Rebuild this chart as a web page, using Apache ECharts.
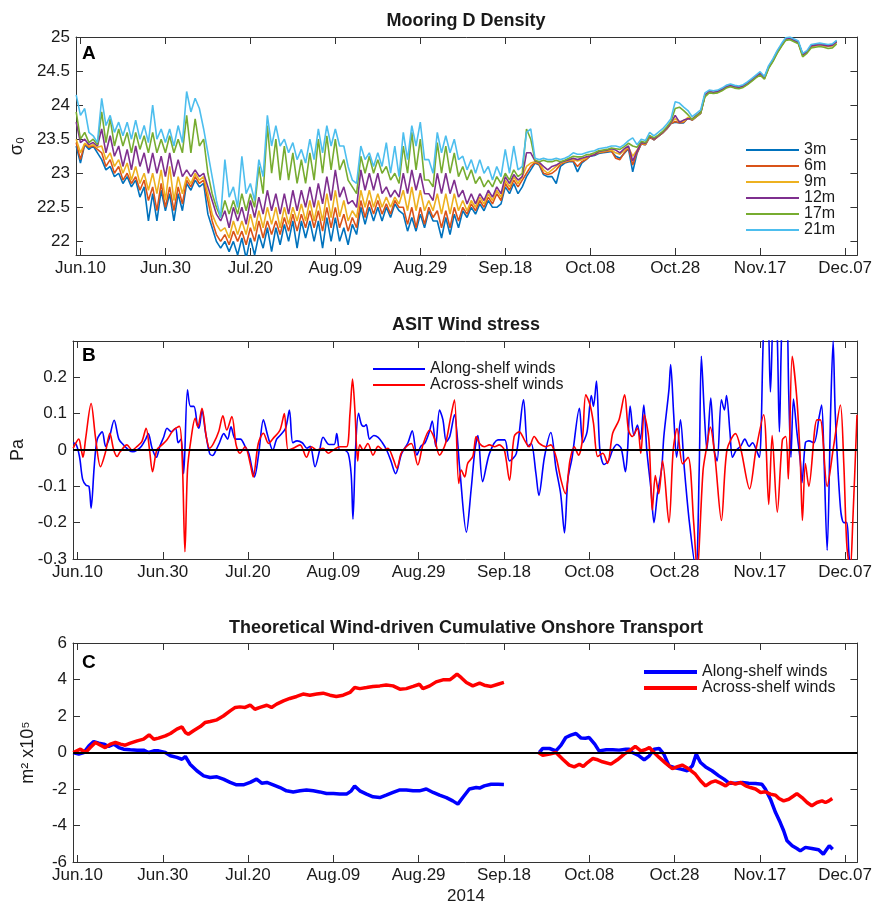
<!DOCTYPE html>
<html><head><meta charset="utf-8">
<script src="https://cdn.jsdelivr.net/npm/echarts/dist/echarts.min.js"></script>
<style>html,body{margin:0;padding:0;background:#fff}#c{width:875px;height:904px}</style>
</head><body><div id="c"></div>
<script>
// ---------- shared axis info ----------
const tickDays = [0,20,40,60,80,100,120,140,160,180];          // days since Jun.10 2014
const tickLabels = ['Jun.10','Jun.30','Jul.20','Aug.09','Aug.29','Sep.18','Oct.08','Oct.28','Nov.17','Dec.07'];
const densityTicks = [22,22.5,23,23.5,24,24.5,25];
const stressTicks = [-0.3,-0.2,-0.1,0,0.1,0.2];
const transportTicks = [-6,-4,-2,0,2,4,6];

// ---------- Panel A: Mooring D density (daily samples starting at day -1) ----------
const depthNames = ['3m','6m','9m','12m','17m','21m'];
const densityStartDay = -1;
const sigma3m = [23.4,23.15,23.42,23.35,23.4,23.3,23.2,23.05,23.1,22.95,23.0,
22.85,22.95,22.8,22.9,22.65,22.8,22.3,22.7,22.3,22.75,
22.45,22.7,22.3,22.7,22.45,22.85,22.75,22.9,22.8,22.85,
22.4,22.2,22.0,21.9,22.0,21.85,22.0,21.8,22.05,21.75,
22.05,21.8,22.1,21.9,22.2,21.85,22.2,21.95,22.25,22.0,
22.3,21.9,22.3,22.05,22.3,22.0,22.3,21.9,22.35,22.0,
22.35,22.0,22.2,21.95,22.25,22.1,22.5,22.25,22.5,22.3,
22.5,22.3,22.5,22.35,22.55,22.45,22.4,22.15,22.35,22.15,
22.4,22.2,22.45,22.3,22.3,22.05,22.35,22.1,22.4,22.2,
22.45,22.35,22.5,22.4,22.55,22.45,22.6,22.5,22.5,22.55,
22.8,22.7,22.85,22.7,22.8,22.95,23.05,23.15,23.12,22.98,
22.95,22.95,22.85,23.1,23.15,23.17,23.17,23.02,23.15,23.2,
23.25,23.26,23.29,23.3,23.31,23.32,23.25,23.22,23.29,23.36,
23.02,23.29,23.43,23.42,23.53,23.49,23.54,23.59,23.65,23.73,
23.75,23.74,23.74,23.81,23.78,23.83,23.88,24.14,24.19,24.18,
24.2,24.23,24.27,24.29,24.27,24.26,24.28,24.32,24.37,24.42,
24.47,24.41,24.56,24.66,24.78,24.88,24.97,24.98,24.95,24.92,
24.75,24.78,24.87,24.89,24.9,24.89,24.88,24.89,24.94];
const sigma6m = [23.45,23.2,23.43,23.38,23.4,23.35,23.3,23.1,23.2,23.0,23.1,
22.9,23.0,22.85,22.95,22.75,22.9,22.6,22.8,22.45,22.85,
22.5,22.8,22.45,22.8,22.55,22.9,22.8,22.95,22.85,22.9,
22.6,22.3,22.1,22.0,22.1,21.95,22.15,22.0,22.15,21.95,
22.2,22.0,22.3,22.05,22.3,22.1,22.3,22.1,22.35,22.15,
22.4,22.15,22.4,22.2,22.45,22.2,22.45,22.15,22.5,22.2,
22.5,22.2,22.4,22.15,22.35,22.2,22.6,22.35,22.6,22.4,
22.6,22.4,22.55,22.4,22.6,22.5,22.5,22.25,22.5,22.2,
22.5,22.25,22.5,22.35,22.45,22.2,22.45,22.2,22.5,22.3,
22.5,22.4,22.55,22.45,22.6,22.5,22.65,22.55,22.7,22.6,
22.85,22.75,22.9,22.8,22.9,23.0,23.1,23.16,23.13,23.0,
22.98,23.0,23.05,23.13,23.16,23.18,23.18,23.1,23.17,23.2,
23.26,23.27,23.3,23.31,23.32,23.33,23.22,23.2,23.3,23.37,
23.12,23.3,23.43,23.42,23.53,23.49,23.54,23.59,23.65,23.73,
23.76,23.74,23.75,23.81,23.78,23.83,23.88,24.14,24.19,24.18,
24.19,24.22,24.26,24.28,24.26,24.25,24.27,24.31,24.36,24.41,
24.46,24.39,24.55,24.65,24.77,24.87,24.96,24.97,24.94,24.91,
24.74,24.77,24.86,24.88,24.89,24.88,24.87,24.88,24.93];
const sigma9m = [23.5,23.3,23.44,23.4,23.42,23.38,23.4,23.2,23.3,23.1,23.2,
23.0,23.15,22.9,23.1,22.85,23.0,22.75,23.0,22.7,23.05,
22.6,23.1,22.6,22.95,22.7,22.95,22.85,23.0,22.9,22.95,
22.7,22.4,22.25,22.15,22.2,22.05,22.3,22.1,22.3,22.1,
22.4,22.15,22.45,22.2,22.5,22.25,22.5,22.2,22.5,22.25,
22.5,22.3,22.55,22.3,22.6,22.3,22.6,22.3,22.7,22.35,
22.75,22.36,22.6,22.3,22.45,22.35,22.75,22.5,22.75,22.5,
22.7,22.5,22.65,22.5,22.65,22.55,22.75,22.45,22.8,22.45,
22.75,22.45,22.6,22.45,22.7,22.4,22.7,22.4,22.7,22.45,
22.6,22.45,22.6,22.5,22.65,22.55,22.7,22.6,22.75,22.65,
22.9,22.8,22.95,22.85,22.95,23.1,23.15,23.17,23.15,23.05,
23.0,23.05,23.1,23.15,23.17,23.19,23.2,23.18,23.2,23.22,
23.27,23.28,23.31,23.32,23.33,23.34,23.3,23.28,23.34,23.38,
23.25,23.34,23.44,23.43,23.54,23.5,23.55,23.6,23.66,23.74,
23.8,23.76,23.76,23.82,23.79,23.84,23.89,24.14,24.19,24.18,
24.19,24.22,24.26,24.28,24.26,24.25,24.27,24.31,24.36,24.41,
24.46,24.39,24.55,24.65,24.77,24.87,24.96,24.97,24.94,24.91,
24.73,24.77,24.86,24.87,24.88,24.87,24.86,24.87,24.92];
const sigma12m = [23.75,23.45,23.5,23.42,23.45,23.4,23.65,23.3,23.55,23.25,23.4,
23.1,23.35,23.05,23.4,23.1,23.3,23.0,23.3,23.0,23.25,
22.95,23.3,22.95,23.2,22.95,23.05,22.95,23.05,22.95,23.0,
22.8,22.6,22.4,22.3,22.45,22.2,22.5,22.3,22.5,22.25,
22.6,22.35,22.65,22.4,22.75,22.45,22.7,22.4,22.7,22.4,
22.75,22.45,22.75,22.5,22.8,22.5,22.85,22.55,22.95,22.6,
23.05,22.65,22.8,22.55,22.6,22.5,23.05,22.75,23.0,22.75,
23.0,22.7,22.8,22.65,22.75,22.65,23.0,22.7,23.05,22.75,
23.0,22.7,22.7,22.6,23.0,22.7,23.0,22.7,22.9,22.65,
22.75,22.55,22.7,22.55,22.7,22.6,22.75,22.65,22.8,22.7,
22.95,22.85,22.98,22.9,22.95,23.3,23.3,23.18,23.16,23.1,
23.05,23.1,23.12,23.16,23.18,23.2,23.22,23.2,23.22,23.24,
23.25,23.27,23.32,23.33,23.34,23.36,23.34,23.3,23.36,23.4,
23.18,23.32,23.45,23.44,23.55,23.5,23.55,23.6,23.66,23.74,
23.85,23.75,23.78,23.8,23.8,23.85,23.9,24.15,24.2,24.19,
24.2,24.23,24.27,24.29,24.27,24.26,24.28,24.32,24.37,24.42,
24.47,24.4,24.56,24.66,24.78,24.88,24.97,24.98,24.95,24.92,
24.74,24.78,24.87,24.88,24.89,24.88,24.87,24.88,24.93];
const sigma17m = [23.9,23.5,23.6,23.45,23.5,23.42,23.9,23.45,23.8,23.4,23.65,
23.4,23.6,23.3,23.6,23.35,23.55,23.3,23.6,23.3,23.5,
23.3,23.55,23.3,23.5,23.3,23.85,23.3,23.8,23.4,23.5,
23.0,22.7,22.5,22.35,22.6,22.4,22.6,22.4,22.7,22.45,
22.7,22.5,23.1,22.7,23.7,23.0,23.5,22.9,23.4,22.9,
23.3,22.85,23.2,22.85,23.3,22.9,23.5,23.0,23.55,23.05,
23.5,23.05,23.2,22.9,22.8,22.7,23.25,23.0,23.25,23.0,
23.2,23.0,23.1,22.9,23.0,22.85,23.4,23.0,23.6,23.05,
23.5,22.9,22.9,22.8,23.45,23.0,23.4,23.0,23.3,22.95,
23.1,22.9,23.05,22.85,22.95,22.8,22.9,22.8,22.95,22.85,
23.0,22.9,23.05,22.95,23.0,23.65,23.5,23.19,23.17,23.19,
23.17,23.17,23.19,23.17,23.19,23.22,23.25,23.24,23.24,23.27,
23.28,23.3,23.33,23.34,23.35,23.37,23.36,23.35,23.39,23.44,
23.4,23.38,23.47,23.45,23.55,23.52,23.56,23.61,23.68,23.76,
23.95,23.97,23.92,23.86,23.79,23.84,23.89,24.12,24.18,24.17,
24.18,24.21,24.25,24.27,24.25,24.24,24.26,24.3,24.35,24.4,
24.44,24.38,24.54,24.64,24.76,24.86,24.95,24.96,24.93,24.9,
24.71,24.76,24.84,24.85,24.86,24.85,24.83,24.84,24.9];
const sigma21m = [24.15,23.85,23.95,23.6,23.55,23.45,24.1,23.7,23.85,23.6,23.75,
23.55,23.75,23.5,23.78,23.5,23.7,23.45,24.0,23.5,23.65,
23.45,23.65,23.4,23.7,23.45,24.2,23.9,24.1,23.95,23.65,
23.3,22.95,22.6,22.35,23.2,22.65,22.8,22.5,23.25,22.7,
22.85,22.6,23.2,22.95,23.85,23.4,23.7,23.4,23.5,23.3,
23.45,23.2,23.35,23.15,23.5,23.2,23.65,23.3,23.7,23.4,
23.65,23.4,23.4,23.1,22.9,22.85,23.4,23.2,23.3,23.1,
23.3,23.1,23.45,23.0,23.4,22.95,23.6,23.2,23.7,23.4,
23.75,23.2,23.2,23.0,23.6,23.3,23.55,23.3,23.5,23.2,
23.25,23.05,23.2,23.0,23.2,23.0,23.1,22.9,23.1,22.95,
23.35,23.0,23.4,23.05,23.1,23.6,23.65,23.22,23.2,23.22,
23.2,23.2,23.22,23.2,23.22,23.25,23.3,23.28,23.28,23.3,
23.32,23.33,23.36,23.37,23.38,23.4,23.4,23.38,23.42,23.48,
23.52,23.42,23.5,23.48,23.6,23.55,23.6,23.65,23.72,23.8,
24.05,24.03,23.97,23.92,23.83,23.88,23.93,24.18,24.22,24.21,
24.22,24.25,24.29,24.31,24.29,24.28,24.3,24.34,24.39,24.44,
24.49,24.42,24.58,24.68,24.8,24.9,24.99,25.0,24.97,24.94,
24.76,24.8,24.89,24.9,24.91,24.9,24.89,24.9,24.95];
const densitySeriesValues = [sigma3m, sigma6m, sigma9m, sigma12m, sigma17m, sigma21m];
const depthColors = ['#0072BD','#D95319','#EDB120','#7E2F8E','#77AC30','#4DBEEE'];

// ---------- Panel B: ASIT wind stress [day, Pa] ----------
const alongStress = [[-1,0.02],[-0.3,0.015],[0.5,-0.02],[1.2,-0.08],[2,-0.097],[2.7,-0.1],[3.2,-0.16],[3.9,-0.05],[4.6,0.028],[5.8,0.05],[6.6,0.01],[7.4,0.03],[8.6,0.082],[9.7,0.03],[10.7,0.015],[12,0],[13,-0.005],[14,0],[15,0.01],[16,0.03],[16.6,0.045],[17.5,0.005],[18.5,-0.02],[19.3,0.01],[20.2,0.035],[21,0.06],[22,0.05],[23,0.06],[23.6,0.02],[24.3,0.03],[24.9,-0.065],[25.8,0.166],[26.5,0.12],[27.3,0.12],[28.1,0.07],[28.5,0.06],[29.2,0.11],[30,0.05],[31,-0.01],[31.7,-0.015],[32.5,0],[33.3,0.02],[34.3,0.045],[35.2,0.03],[36,0.064],[37,0.03],[38.2,0.03],[39.3,0.01],[40.2,-0.01],[41,-0.055],[41.5,-0.074],[42.5,-0.01],[43.6,0.083],[44.6,0.04],[45.8,0],[46.7,0.03],[47.5,0.04],[48.8,0.06],[49.7,0.11],[50.5,0.02],[51.5,0.025],[52.7,0.02],[53.8,0.005],[54.6,0.01],[55.7,-0.046],[56.8,0],[57.6,0.035],[59,0.015],[60.2,0.015],[60.8,0.045],[61.5,0],[62.5,0],[63.5,-0.01],[64.2,-0.07],[64.6,-0.19],[65.2,0],[65.9,0.101],[66.6,0.07],[67.2,0.065],[67.7,0.07],[68.5,0.03],[69.5,0.04],[70.5,0.035],[71.5,0.02],[72.5,0],[73.5,-0.03],[74.6,-0.065],[76,-0.01],[77.5,0.02],[78.5,0.053],[79.6,-0.014],[80.5,0.01],[81.5,0.02],[82.5,0.05],[83.2,0.08],[84,0.01],[84.9,0.11],[85.7,0.083],[86.5,0.023],[87.3,0.037],[88.4,0.097],[89.6,-0.046],[91.2,-0.226],[92.3,-0.11],[93.2,0],[93.9,0.04],[95,-0.087],[96.6,-0.01],[98.6,0.028],[100.2,0.028],[101.3,-0.03],[102.9,-0.01],[104.6,0.138],[105.6,0.01],[106.4,0.018],[107.5,-0.064],[108.2,-0.125],[109.5,-0.02],[111,0.048],[112.2,-0.05],[113.3,-0.12],[114.2,-0.228],[115,-0.08],[116,-0.02],[117.7,0.115],[118.5,0.02],[119.5,0.05],[120.5,0.15],[121,0.12],[121.7,0.19],[122.5,0],[123.5,-0.04],[124.5,-0.03],[125.5,0],[126.5,0.015],[127.5,0.005],[128.5,-0.06],[129,0],[129.6,0.121],[130.5,0.04],[131.3,0.069],[132,0.03],[132.8,0.124],[133.5,0],[134.5,-0.11],[135.2,-0.2],[136,-0.12],[137,-0.05],[137.5,0.037],[138.7,0.166],[139.1,0.235],[139.8,0.1],[140.5,-0.02],[141.4,0.083],[142.3,-0.05],[143.5,-0.2],[145,-0.33],[145.8,-0.05],[146.3,0.258],[147,0.1],[147.6,0],[148.5,0.143],[149.3,0],[150,-0.03],[151,0.138],[151.7,0.11],[152.2,0.15],[153,0.05],[153.6,-0.02],[154.5,0],[155.5,0.01],[156.5,0.03],[157.5,0.01],[158.3,0.02],[159.2,0],[159.9,-0.02],[160.3,0.05],[161,0.36],[161.8,0.38],[162.5,0.16],[163.3,0.4],[164,0.35],[164.6,0.05],[165.3,0.38],[166.2,0.4],[166.8,0.15],[167.3,-0.02],[167.9,0.14],[168.7,0.05],[169.5,-0.03],[169.9,-0.09],[170.7,0.02],[171.5,0.025],[172.7,0.02],[173.9,0.09],[174.5,0.124],[175,0],[175.8,-0.276],[176.6,0.1],[177.2,0.3],[177.7,0.1],[178.9,-0.157],[179.7,-0.2],[180.4,-0.2],[181.2,-0.32],[182.5,-0.33]];
const acrossStress = [[-1,0.005],[0.3,0.03],[0.9,0],[1.3,-0.02],[1.9,0.03],[3.2,0.128],[4.2,0.037],[5.4,-0.046],[6.5,-0.009],[7.6,0.046],[8.5,0],[9.3,-0.018],[10,-0.005],[11.6,0.014],[12.8,0],[14,0.01],[15.1,0.023],[16.1,0.06],[16.9,0],[17.6,-0.06],[18.6,0],[19.8,0.014],[21,0.028],[22.5,0.055],[23.9,0.065],[24.6,-0.037],[25.2,-0.28],[25.8,-0.055],[26.6,0.028],[27.6,0.087],[28.2,0.064],[29.2,0.115],[30.2,0.037],[31,0.005],[31.9,0.018],[33.1,0.05],[34.1,0.094],[35,0.055],[36.2,0.092],[37.2,0.014],[38.1,-0.009],[39.3,0.009],[40.5,-0.037],[41.2,-0.074],[42.4,0.018],[43.6,0.046],[44.8,0.018],[45.9,0.032],[47.5,0.055],[48.5,0.1],[49.4,0],[50.6,0.005],[52.2,0.014],[53.7,-0.02],[54.9,0.009],[56.1,0],[57.6,0.005],[58.8,-0.009],[60,0],[61.5,0.009],[63.1,0.009],[63.9,0.1],[64.5,0.195],[65.1,0.1],[65.7,-0.03],[66.2,0.014],[67,0],[68.1,0.018],[69.3,-0.014],[70.5,0.01],[71.7,0],[72.8,0.005],[74,-0.023],[74.9,-0.05],[75.9,-0.009],[77.1,0.009],[78.3,0.018],[79.8,-0.041],[81,0.014],[82.6,0.055],[83.7,0.032],[84.9,-0.014],[86.3,0.018],[87.4,0.083],[88.4,0.138],[89.4,-0.092],[90,-0.055],[90.8,-0.074],[91.5,-0.037],[92.7,-0.018],[93.5,0.037],[94.3,0.018],[95.4,0.009],[96.6,0.014],[97.8,0.009],[98.9,0.014],[100.1,0],[101.3,-0.083],[102.4,0.037],[103.6,0.05],[104.8,0.028],[105.9,0.009],[107.1,0.037],[108.3,0.018],[109.9,0.009],[111,0.014],[112.2,-0.018],[113.4,-0.083],[114.4,-0.12],[115.5,-0.028],[116.5,0.009],[117.5,-0.014],[118.4,0.028],[119.2,0.152],[120.2,0.124],[121,0.074],[122,-0.018],[123.2,-0.009],[124.3,-0.037],[125.5,0.046],[127,0.083],[128.3,0.152],[129.2,0.055],[130.1,0.037],[131.3,0.06],[132.1,-0.009],[132.9,0.097],[134,0.028],[134.8,-0.166],[135.5,-0.07],[136.3,-0.12],[137.2,-0.03],[138.7,-0.2],[139.7,0],[140.6,0.059],[141.9,-0.038],[143.2,-0.02],[144.5,-0.2],[145.3,-0.33],[146.7,-0.056],[147.5,0.005],[148.4,0.063],[149.5,-0.02],[151,-0.194],[152.3,0],[154.3,0.045],[155.6,0],[157.6,-0.107],[159.1,0],[160.9,0.097],[162.1,-0.15],[162.9,0.04],[164.1,-0.171],[165.3,0.028],[166.1,0.037],[166.7,-0.08],[167.6,0.258],[168.7,0.14],[169.5,-0.028],[170,-0.194],[170.7,-0.037],[171.5,-0.1],[173.4,0.083],[174.2,0.083],[175.8,-0.1],[177.3,0.009],[178.9,0.124],[179.7,-0.037],[180.4,-0.26],[181.2,-0.33],[181.8,-0.2],[182.8,0.097]];

// ---------- Panel C: cumulative onshore transport [day, m^2 x10^5] ----------
const alongCumA = [[-1,0],[0.3,-0.09],[1.5,0],[2.7,0.37],[3.8,0.6],[5,0.51],[6.2,0.46],[7.3,0.33],[8.5,0.46],[9.7,0.27],[10.8,0.18],[12.4,0.15],[14,0.13],[15.5,0.13],[16.7,0],[17.9,0.09],[19,0.09],[20.6,0],[21.8,-0.18],[23.3,-0.27],[24.5,-0.37],[25.3,-0.22],[26.4,-0.64],[28,-1.0],[29.6,-1.28],[31.1,-1.37],[32.7,-1.33],[34.2,-1.46],[35.8,-1.64],[37.3,-1.77],[38.9,-1.77],[40.5,-1.64],[42,-1.46],[43.2,-1.68],[44.4,-1.64],[45.9,-1.77],[47.5,-1.92],[49,-2.1],[50.6,-2.16],[52.2,-2.1],[53.7,-2.06],[55.3,-2.1],[56.8,-2.16],[58.4,-2.25],[60,-2.25],[61.5,-2.28],[63.1,-2.28],[64.2,-2.1],[65,-1.83],[66.2,-2.1],[67.8,-2.28],[69.3,-2.43],[70.9,-2.47],[72.4,-2.34],[74,-2.19],[75.6,-2.05],[77.1,-2.05],[78.7,-2.1],[80.2,-2.1],[81.8,-2.0],[83.4,-2.19],[84.9,-2.34],[86.5,-2.47],[88,-2.65],[89.2,-2.83],[90.4,-2.45],[91.9,-2.0],[93.5,-1.92],[94.3,-1.95],[95.4,-1.83],[97,-1.74],[98.6,-1.74],[100,-1.75]];
const alongCumB = [[108.3,0],[109.1,0.22],[110.7,0.22],[112.2,0.09],[113.4,0.4],[114.5,0.82],[115.7,0.95],[116.9,1.04],[118.1,0.79],[119.1,0.78],[120,0.82],[121.3,0.46],[122.3,0.09],[124,0.15],[125.5,0.15],[127,0.13],[128.6,0.18],[129.4,0.18],[130.1,0],[131.7,-0.18],[132.9,-0.4],[134.1,-0.18],[135.2,0.18],[136.4,0.22],[137.5,-0.09],[138.7,-0.73],[139.9,-0.82],[141.5,-0.91],[143,-1.0],[144.2,-0.73],[145.1,-0.09],[146.1,-0.55],[147.3,-0.79],[148.8,-1.0],[150.4,-1.28],[151.6,-1.46],[152.8,-1.68],[154.3,-1.68],[155.9,-1.64],[157.4,-1.68],[159,-1.7],[160.5,-1.74],[161.3,-2.0],[162.5,-2.56],[163.7,-3.29],[164.8,-3.84],[165.6,-4.29],[166.4,-4.84],[167.6,-5.11],[168.7,-5.26],[169.5,-5.39],[170.7,-5.2],[172.2,-5.26],[173.8,-5.33],[174.9,-5.57],[175.7,-5.3],[176.3,-5.11],[177.1,-5.3]];
const acrossCumA = [[-1,0],[0.7,0.18],[1.9,0],[3,0.27],[4.2,0.55],[5.4,0.4],[6.5,0.27],[7.7,0.46],[8.9,0.55],[10.1,0.46],[11.2,0.4],[12.4,0.51],[14,0.64],[15.5,0.73],[16.8,0.97],[17.9,0.73],[19,0.79],[20.6,0.91],[21.8,1.04],[23.3,1.28],[24.5,1.4],[25.3,1.1],[26,1.0],[27.2,1.19],[28.8,1.42],[29.9,1.64],[31.1,1.7],[32.7,1.79],[34.2,2.0],[35.8,2.28],[37,2.47],[38.1,2.5],[39.3,2.47],[40.5,2.6],[41.6,2.37],[42.8,2.47],[44.4,2.59],[45.5,2.47],[46.7,2.65],[48.3,2.83],[49.8,2.96],[51.4,3.07],[52.9,3.2],[54.5,3.14],[56.1,3.2],[57.6,3.25],[59.2,3.14],[60.7,3.07],[62.3,3.14],[63.9,3.29],[65,3.56],[66.2,3.5],[67.8,3.56],[69.3,3.62],[70.9,3.65],[72.4,3.7],[74,3.65],[75.6,3.47],[77.1,3.5],[78.7,3.62],[80.2,3.74],[81,3.5],[82.6,3.65],[84.1,3.87],[85.7,3.98],[87.3,3.98],[88,4.1],[89,4.29],[90,4.1],[91.2,3.84],[92.7,3.65],[94.3,3.8],[95.4,3.69],[97,3.62],[98.6,3.74],[100,3.84]];
const acrossCumB = [[108.1,0],[109.1,-0.15],[110.7,-0.09],[112.2,0],[113.8,-0.37],[115.3,-0.69],[116.5,-0.79],[117.7,-0.64],[118.6,-0.77],[119.6,-0.55],[120.8,-0.33],[122,-0.4],[123.1,-0.51],[125.1,-0.64],[126.6,-0.4],[128.2,-0.09],[129.4,0.09],[130.8,0.33],[132.1,0.09],[133.1,0.15],[134.1,0.27],[135.2,0],[136.4,-0.27],[137.9,-0.58],[139.5,-0.88],[140.7,-0.77],[141.8,-0.69],[143.4,-0.91],[144.9,-1.19],[146.1,-1.55],[147.3,-1.83],[148.5,-1.64],[149.6,-1.55],[150.8,-1.68],[152,-1.83],[153.1,-1.64],[154.3,-1.73],[155.5,-1.64],[156.7,-1.83],[157.8,-1.92],[159,-2.0],[160.2,-2.19],[161.3,-2.15],[162.5,-2.28],[163.7,-2.34],[164.5,-2.52],[165.6,-2.65],[166.8,-2.56],[168,-2.37],[168.7,-2.25],[169.9,-2.47],[171.1,-2.74],[172.2,-2.92],[173.4,-2.74],[174.6,-2.65],[175.4,-2.74],[176.2,-2.65],[177,-2.52]];

// ---------- build ----------
const FONT = '"Liberation Sans", Arial, Helvetica, sans-serif';
const TXT = '#1a1a1a';
const AX = '#333';
const GRIDS = [{top:37,height:218},{top:341,height:218},{top:643,height:219}];

function xPair(g){
  const base = {type:'value', gridIndex:g, min:-1.05, max:182.9, splitLine:{show:false},
    axisLine:{show:true,onZero:false,lineStyle:{color:AX,width:1}},
    axisTick:{show:true,inside:true,length:7,customValues:tickDays,lineStyle:{color:AX}}};
  return [
    Object.assign({}, base, {position:'bottom',
      axisLabel:{show:true,customValues:tickDays,formatter:v=>tickLabels[Math.round(v/20)],
        fontSize:17,fontFamily:FONT,color:TXT,margin:5}}),
    Object.assign({}, base, {position:'top', axisLabel:{show:false}})
  ];
}
function yPair(g,min,max,ticks,name,gap){
  const base = {type:'value', gridIndex:g, min:min, max:max, splitLine:{show:false},
    axisLine:{show:true,onZero:false,lineStyle:{color:AX,width:1}},
    axisTick:{show:true,inside:true,length:7,customValues:ticks,lineStyle:{color:AX}}};
  return [
    Object.assign({}, base, {position:'left', name:name, nameLocation:'middle', nameRotate:90, nameGap:gap,
      nameTextStyle:{fontSize:18,fontFamily:FONT,color:TXT},
      axisLabel:{show:true,customValues:ticks,fontSize:17,fontFamily:FONT,color:TXT,margin:6}}),
    Object.assign({}, base, {position:'right', axisLabel:{show:false}})
  ];
}

const zeroLine = {silent:true, symbol:['none','none'], label:{show:false},
  lineStyle:{color:'#000',width:2,type:'solid'}, data:[{yAxis:0}]};

const series = [];
densitySeriesValues.forEach((vals,k)=>{
  series.push({name:depthNames[k], type:'line', xAxisIndex:0, yAxisIndex:0, symbol:'none',
    data: vals.map((v,i)=>[densityStartDay+i, v]),
    lineStyle:{color:depthColors[k], width:1.6}, itemStyle:{color:depthColors[k]}, animation:false});
});
series.push({name:'Along-shelf winds', type:'line', xAxisIndex:2, yAxisIndex:2, symbol:'none', smooth:0.3,
  data:alongStress, lineStyle:{color:'#0000FF',width:1.6}, itemStyle:{color:'#0000FF'}, animation:false});
series.push({name:'Across-shelf winds', type:'line', xAxisIndex:2, yAxisIndex:2, symbol:'none', smooth:0.3,
  data:acrossStress, lineStyle:{color:'#FF0000',width:1.6}, itemStyle:{color:'#FF0000'}, markLine:zeroLine, animation:false});
series.push({name:'Along-shelf winds ', type:'line', xAxisIndex:4, yAxisIndex:4, symbol:'none', connectNulls:false,
  data:alongCumA.concat([[104,'-']], alongCumB), lineStyle:{color:'#0000FF',width:3.5}, itemStyle:{color:'#0000FF'}, animation:false});
series.push({name:'Across-shelf winds ', type:'line', xAxisIndex:4, yAxisIndex:4, symbol:'none', connectNulls:false,
  data:acrossCumA.concat([[104,'-']], acrossCumB), lineStyle:{color:'#FF0000',width:3.5}, itemStyle:{color:'#FF0000'}, markLine:zeroLine, animation:false});

function legend(names,left,top,w,thick,lh){
  return {data:names, orient:'vertical', left:left, top:top, padding:0, itemWidth:w, itemHeight:thick, itemGap:0,
    icon:'rect', selectedMode:false,
    textStyle:{fontSize:16,lineHeight:lh,fontFamily:FONT,color:TXT}};
}
function txt(text,x,y,size,bold){
  return {type:'text', x:x, y:y, silent:true, style:{text:text, fill:TXT, textAlign:'center',
    textVerticalAlign:'middle', font:(bold?'bold ':'')+size+'px '+FONT}};
}

const option = {
  animation:false,
  backgroundColor:'#fff',
  grid: GRIDS.map(g=>({left:73,right:16,top:g.top,height:g.height})),
  xAxis: [].concat(xPair(0), xPair(1), xPair(2)),
  yAxis: [].concat(
    yPair(0,21.8,25,densityTicks,'σ₀',44),
    yPair(1,-0.3,0.3,stressTicks,'Pa',44),
    yPair(2,-6,6,transportTicks,'m² x10⁵',36)),
  legend: [
    legend(depthNames,746,142,53,2,15),
    legend(['Along-shelf winds','Across-shelf winds'],373,361,52,2,15),
    legend(['Along-shelf winds ','Across-shelf winds '],644,664,53,4,16)
  ],
  series: series,
  graphic: [
    txt('Mooring D Density',466,21,18,true),
    txt('ASIT Wind stress',466,325,18,true),
    txt('Theoretical Wind-driven Cumulative Onshore Transport',466,628,18,true),
    {type:'text', x:82, y:54, silent:true, style:{text:'A', fill:'#000', textVerticalAlign:'middle', font:'bold 19px '+FONT}},
    {type:'text', x:82, y:356, silent:true, style:{text:'B', fill:'#000', textVerticalAlign:'middle', font:'bold 19px '+FONT}},
    {type:'text', x:82, y:663, silent:true, style:{text:'C', fill:'#000', textVerticalAlign:'middle', font:'bold 19px '+FONT}},
    txt('2014',466,896,17,false)
  ]
};
const chart = echarts.init(document.getElementById('c'), null, {renderer:'canvas'});
chart.setOption(option);
</script></body></html>
